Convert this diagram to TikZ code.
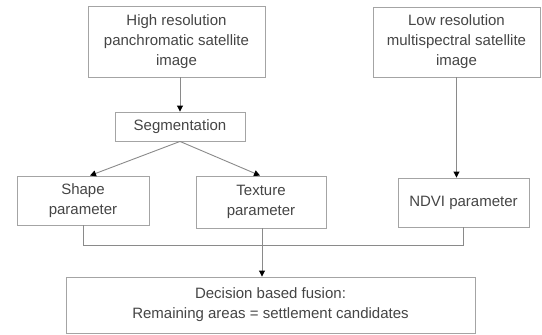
\documentclass[tikz,border=0pt]{standalone}
\usepackage{fontspec}
\setmainfont{Liberation Sans}
\usetikzlibrary{arrows.meta,calc}
\definecolor{boxgray}{HTML}{A4A4A4}
\definecolor{linegray}{HTML}{8A8A8A}
\definecolor{txtgray}{HTML}{454545}
\begin{document}
\begin{tikzpicture}[x=1pt,y=-1pt,
  box/.style={draw=boxgray, line width=0.9pt, fill=white, align=center, inner sep=0pt,
    text=txtgray, font=\fontsize{15}{20}\selectfont},
  conn/.style={draw=linegray, line width=0.9pt},
  arr/.style={conn, -{Triangle[width=6pt,length=6pt,fill=black,color=black]}}]
\useasboundingbox (0,0) rectangle (542,335);
\node[box, minimum width=177pt, minimum height=71pt] (A) at (176.5,41.5) {High resolution\\panchromatic satellite\\image};
\node[box, minimum width=167pt, minimum height=70pt] (B) at (456.5,42) {Low resolution\\multispectral satellite\\image};
\node[box, minimum width=130pt, minimum height=29pt] (Seg) at (180,126.5) {Segmentation};
\node[box, minimum width=132pt, minimum height=49pt] (Shape) at (83,200.5) {Shape\\parameter};
\node[box, minimum width=130pt, minimum height=52pt] (Tex) at (261,202) {Texture\\parameter};
\node[box, minimum width=131pt, minimum height=49pt] (NDVI) at (463.5,202.5) {NDVI parameter};
\node[box, minimum width=409pt, minimum height=56pt] (Dec) at (270.5,305) {Decision based fusion:\\Remaining areas = settlement candidates};
\coordinate (j) at (262,245);
\draw[arr] (Seg.north |- A.south) -- (Seg.north);
\draw[arr] (B.south) -- (B.south |- NDVI.north);
\draw[arr] (Seg.south) -- ($(Shape.north)+(7,0)$);
\draw[arr] (Seg.south) -- ($(Tex.north)+(-1,0)$);
\draw[conn] (Shape.south) -- (Shape.south |- j) -- (NDVI.south |- j) -- (NDVI.south);
\draw[conn] (Tex.south -| j) -- (j);
\draw[arr] (j) -- (Dec.north -| j);
\end{tikzpicture}
\end{document}
